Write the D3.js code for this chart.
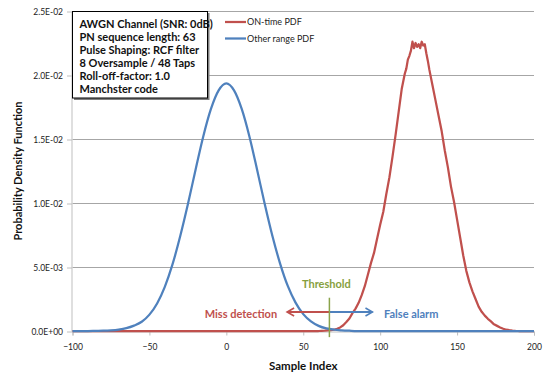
<!DOCTYPE html>
<html>
<head>
<meta charset="utf-8">
<script src="https://cdn.jsdelivr.net/npm/d3@7"></script>
<style>
  body { margin: 0; background: #fff; }
  svg { display: block; }
</style>
</head>
<body>
<div class="chart"></div>
<script>
// data
var xTicks = [-100, -50, 0, 50, 100, 150, 200];
var yTicks = [0, 0.005, 0.01, 0.015, 0.02, 0.025];
var yTickLabels = ['0.0E+00', '5.0E-03', '1.0E-02', '1.5E-02', '2.0E-02', '2.5E-02'];

// Other range PDF (blue)
var blueX = [-100, -95, -90, -85, -80, -75, -70, -65, -60, -55, -50, -45, -40, -35, -30, -25, -20, -15, -10, -5, 0,
             5, 10, 15, 20, 25, 30, 35, 40, 45, 50, 55, 60, 65, 70, 75, 80, 85, 90, 100, 150, 200];
var blueY = [0, 0, 0, 0.00001, 0.00002, 0.00005, 0.00011, 0.00022, 0.00042, 0.00072, 0.00128, 0.00215, 0.00345, 0.0052, 0.0074, 0.0099, 0.0126, 0.0152, 0.01735, 0.0188, 0.01935,
             0.0188, 0.01735, 0.0152, 0.0126, 0.0099, 0.0074, 0.00525, 0.0035, 0.00222, 0.00132, 0.00075, 0.0004, 0.0002, 0.0001, 0.00005, 0.00002, 0, 0, 0, 0, 0];

// ON-time PDF (red)
var redX = [-100, 0, 50, 60, 62, 64, 66, 68, 70, 72, 74, 76, 78, 80, 82, 84, 86, 88, 90, 92, 94, 96, 98, 100,
            102, 104, 106, 108, 110, 112, 114, 116, 117, 118, 119, 120, 121, 122, 123, 124, 125, 126, 127, 128, 129, 130,
            131, 132, 134, 136, 138, 140, 142, 144, 146, 148, 150, 152, 154, 156, 158, 160, 162, 164, 166, 168, 170,
            172, 174, 176, 178, 180, 182, 184, 186, 188, 190, 200];
var redY = [0, 0, 0, 0, 0.00001, 0.00002, 0.00004, 0.00006, 0.0001, 0.00018, 0.00028, 0.00045, 0.0007, 0.00098, 0.0014, 0.00175, 0.0022, 0.0028, 0.0035, 0.0044, 0.0053, 0.0061, 0.0072, 0.0083,
            0.0093, 0.0107, 0.012, 0.0136, 0.0153, 0.0171, 0.0189, 0.0201, 0.0205, 0.0212, 0.0215, 0.0219, 0.0226, 0.0221, 0.0225, 0.0222, 0.0224, 0.0221, 0.0226, 0.0223, 0.0224, 0.0217,
            0.0211, 0.0204, 0.0192, 0.0180, 0.0168, 0.0156, 0.0141, 0.0128, 0.0113, 0.0101, 0.0087, 0.0073, 0.0059, 0.0047, 0.0038, 0.0031, 0.0025, 0.0019, 0.0015, 0.0012, 0.00095,
            0.00075, 0.00052, 0.0004, 0.00028, 0.00018, 0.0001, 0.00006, 0.00003, 0.00001, 0, 0];

var thresholdX = 67;

var width = 546, height = 375;
var svg = d3.select('.chart').append('svg')
    .attr('width', width)
    .attr('height', height)
    .style('font-family', 'Lato, sans-serif');

var x = d3.scaleLinear().domain([-100, 200]).range([72.5, 534]);
var y = d3.scaleLinear().domain([0, 0.025]).range([331, 11]);

// grid lines
svg.append('g')
    .selectAll('line')
    .data(yTicks.slice(1))
    .join('line')
        .attr('x1', x(-100))
        .attr('x2', x(200))
        .attr('y1', function(d) { return Math.round(y(d)) + 0.5; })
        .attr('y2', function(d) { return Math.round(y(d)) + 0.5; })
        .style('stroke', '#a6a6a6')
        .style('stroke-width', 1);

// y axis
var yAxis = d3.axisLeft(y)
    .tickValues(yTicks)
    .tickSize(5)
    .tickFormat(function(d, i) { return yTickLabels[i]; });

var gy = svg.append('g')
    .attr('transform', 'translate(' + (x(-100) - 0.5) + ',0.5)')
    .call(yAxis);
gy.select('.domain').style('stroke', '#bfbfbf').attr('d', 'M0,' + y(0.025) + 'V' + y(0));
gy.selectAll('.tick line').style('stroke', '#bfbfbf');
gy.selectAll('.tick text')
    .attr('x', -9)
    .style('font-family', 'Lato, sans-serif')
    .style('font-size', '8.5px')
    .style('fill', '#222');

// x axis
var xAxis = d3.axisBottom(x)
    .tickValues(xTicks)
    .tickSize(4)
    .tickFormat(d3.format('d'));

var gx = svg.append('g')
    .attr('transform', 'translate(0,' + (y(0) + 0.5) + ')')
    .call(xAxis);
gx.select('.domain').style('stroke', '#bfbfbf');
gx.selectAll('.tick line').style('stroke', '#bfbfbf');
gx.selectAll('.tick text')
    .attr('y', 12)
    .style('font-family', 'Lato, sans-serif')
    .style('font-size', '8.5px')
    .style('fill', '#222');

// curves
var redLine = d3.line()
    .x(function(d, i) { return x(redX[i]); })
    .y(function(d) { return y(d); });

var blueLine = d3.line()
    .x(function(d, i) { return x(blueX[i]); })
    .y(function(d) { return y(d); })
    .curve(d3.curveMonotoneX);

svg.append('path')
    .datum(redY)
    .attr('d', redLine)
    .style('fill', 'none')
    .style('stroke', '#c0504d')
    .style('stroke-width', 2.25)
    .style('stroke-linejoin', 'round');

svg.append('path')
    .datum(blueY)
    .attr('d', blueLine)
    .style('fill', 'none')
    .style('stroke', '#4f81bd')
    .style('stroke-width', 2.25)
    .style('stroke-linejoin', 'round');

// threshold annotation
var defs = svg.append('defs');
function arrowHead(id, color) {
    defs.append('marker')
        .attr('id', id)
        .attr('viewBox', '0 0 10 10')
        .attr('refX', 8)
        .attr('refY', 5)
        .attr('markerWidth', 5)
        .attr('markerHeight', 5)
        .attr('markerUnits', 'strokeWidth')
        .attr('orient', 'auto')
      .append('path')
        .attr('d', 'M1,1L8,5L1,9')
        .style('fill', 'none')
        .style('stroke', color)
        .style('stroke-width', 1.6);
}
arrowHead('arrowRed', '#c0504d');
arrowHead('arrowBlue', '#4f81bd');

svg.append('line')
    .attr('x1', x(thresholdX)).attr('x2', x(39.5))
    .attr('y1', y(0.00148)).attr('y2', y(0.00148))
    .style('stroke', '#c0504d')
    .style('stroke-width', 2)
    .attr('marker-end', 'url(#arrowRed)');

svg.append('line')
    .attr('x1', x(thresholdX)).attr('x2', x(95))
    .attr('y1', y(0.00148)).attr('y2', y(0.00148))
    .style('stroke', '#4f81bd')
    .style('stroke-width', 2)
    .attr('marker-end', 'url(#arrowBlue)');

svg.append('line')
    .attr('x1', x(thresholdX)).attr('x2', x(thresholdX))
    .attr('y1', y(0.0026)).attr('y2', y(-0.00048))
    .style('stroke', '#8aa34a')
    .style('stroke-width', 1.5);

svg.append('text')
    .attr('x', x(thresholdX) - 3)
    .attr('y', y(0.00335))
    .attr('text-anchor', 'middle')
    .style('font-size', '11px')
    .style('font-weight', 700)
    .style('fill', '#87a040')
    .text('Threshold');

svg.append('text')
    .attr('x', x(33))
    .attr('y', y(0.00105))
    .attr('text-anchor', 'end')
    .style('font-size', '11px')
    .style('font-weight', 700)
    .style('fill', '#c0504d')
    .text('Miss detection');

svg.append('text')
    .attr('x', x(102.5))
    .attr('y', y(0.00105))
    .style('font-size', '11px')
    .style('font-weight', 700)
    .style('fill', '#4f81bd')
    .text('False alarm');

// legend
var legend = [['ON-time PDF', '#c0504d'], ['Other range PDF', '#4f81bd']];
var lg = svg.append('g').attr('transform', 'translate(225,22)');
lg.selectAll('line')
    .data(legend)
    .join('line')
        .attr('x1', 0).attr('x2', 21)
        .attr('y1', function(d, i) { return i * 16.5; })
        .attr('y2', function(d, i) { return i * 16.5; })
        .style('stroke', function(d) { return d[1]; })
        .style('stroke-width', 2.25);
lg.selectAll('text')
    .data(legend)
    .join('text')
        .attr('x', 22)
        .attr('y', function(d, i) { return i * 16.5 + 3; })
        .style('font-size', '9px')
        .style('fill', '#222')
        .text(function(d) { return d[0]; });

// info box
var info = ['AWGN Channel (SNR: 0dB)', 'PN sequence length: 63', 'Pulse Shaping: RCF filter',
            '8 Oversample / 48 Taps', 'Roll-off-factor: 1.0', 'Manchster code'];

svg.append('rect')
    .attr('x', 74).attr('y', 13)
    .attr('width', 135.5).attr('height', 87)
    .style('fill', '#7f7f7f');
svg.append('rect')
    .attr('x', 72.5).attr('y', 11.5)
    .attr('width', 135).attr('height', 86.5)
    .style('fill', '#fff')
    .style('stroke', '#000')
    .style('stroke-width', 1);

svg.append('g')
    .selectAll('text')
    .data(info)
    .join('text')
        .attr('x', 79.5)
        .attr('y', function(d, i) { return 27.5 + i * 13.1; })
        .style('font-size', '11px')
        .style('font-weight', 700)
        .style('fill', '#111')
        .text(function(d) { return d; });

// axis titles
svg.append('text')
    .attr('x', x(50))
    .attr('y', 370)
    .attr('text-anchor', 'middle')
    .style('font-size', '11.5px')
    .style('font-weight', 700)
    .style('fill', '#111')
    .text('Sample Index');

svg.append('text')
    .attr('transform', 'translate(22,' + y(0.0125) + ') rotate(-90)')
    .attr('text-anchor', 'middle')
    .style('font-size', '11px')
    .style('font-weight', 700)
    .style('fill', '#111')
    .text('Probability Density Function');
</script>
</body>
</html>
